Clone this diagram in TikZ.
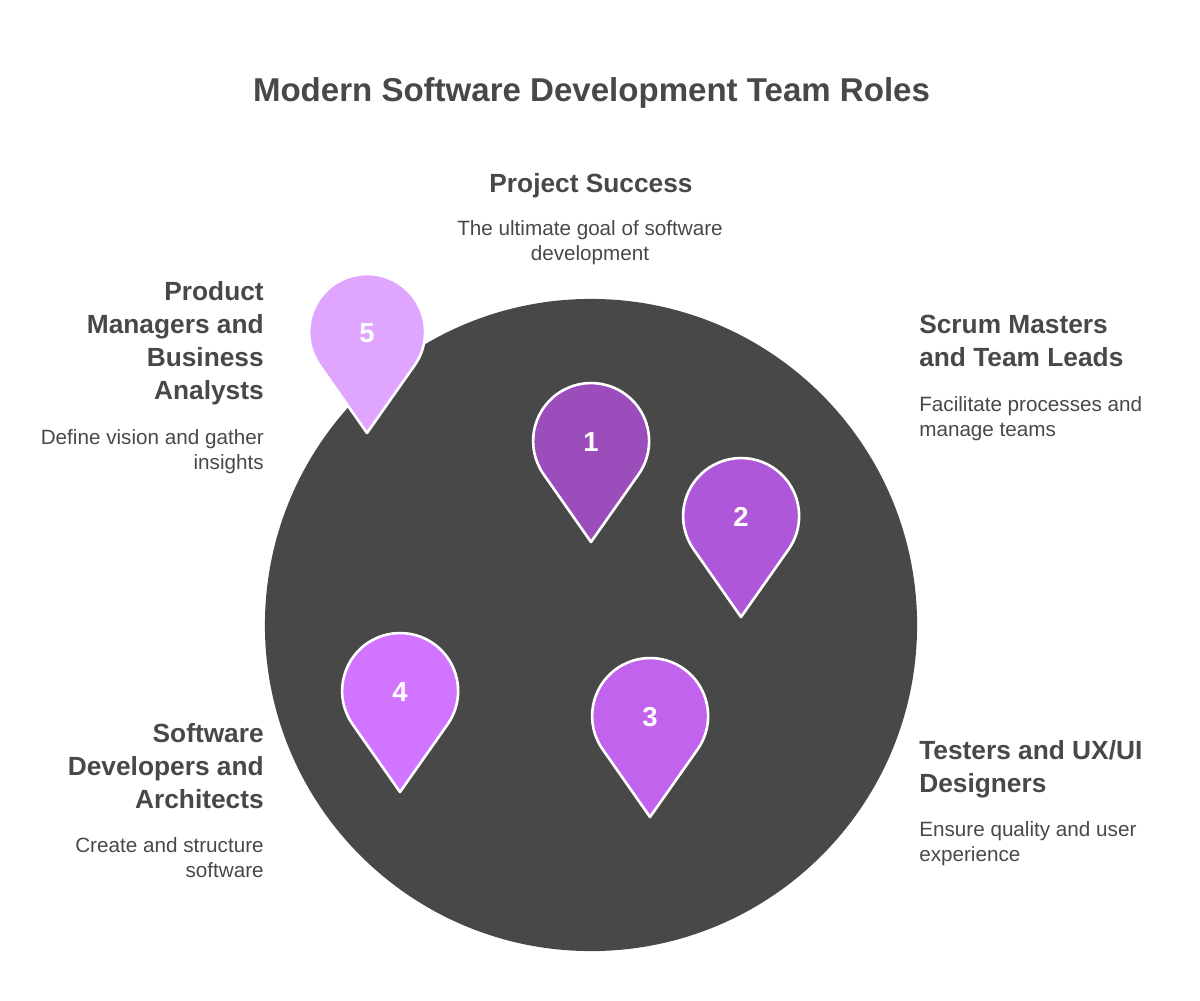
\documentclass[tikz,border=0pt]{standalone}
\usepackage{fontspec}
\setmainfont{Liberation Sans}
\usetikzlibrary{positioning,calc}

\definecolor{disc}{HTML}{484848}
\definecolor{inktext}{HTML}{484848}
\definecolor{pinone}{HTML}{9B4DBC}
\definecolor{pintwo}{HTML}{AF57D9}
\definecolor{pinthree}{HTML}{C263EE}
\definecolor{pinfour}{HTML}{D174FF}
\definecolor{pinfive}{HTML}{E0A6FF}

\tikzset{
    px/.style={x=0.025cm, y=-0.025cm},
    headtext/.style={text=inktext, inner sep=0pt, font=\bfseries\fontsize{18.7}{23.5}\selectfont},
    bodytext/.style={text=inktext, inner sep=0pt, font=\fontsize{14.7}{17.8}\selectfont},
    numtext/.style={text=white, font=\bfseries\fontsize{19.5}{20}\selectfont},
    pinshape/.style={draw=white, line width=0.065cm, line join=round}
}

% one pin: name, tip x, tip y, fill, number
\newcommand{\drawpin}[5]{
    \coordinate (#1_tip) at (#2,#3);
    \coordinate (#1_head) at (#2,#3-100);
    \fill[#4, pinshape]
        (#1_tip) -- ($(#1_tip)+(-47.4,-67.7)$)
        arc[start angle=145, end angle=395, radius=58]
        -- cycle;
    \node[numtext] (#1_num) at (#1_head) {#5};
}

\begin{document}
\begin{tikzpicture}[px]

    \useasboundingbox (0,0) rectangle (1200,1000);

    % Disc
    \node[circle, fill=disc, minimum size=16.3cm, inner sep=0pt] (main_disc) at (591,625) {};

    % Title
    \node[text=inktext, inner sep=0pt, font=\bfseries\fontsize{23.5}{26}\selectfont] (title) at (591.5,93) {Modern Software Development Team Roles};

    % Pins
    \drawpin{pin_one}{591}{542}{pinone}{1}
    \drawpin{pin_two}{741}{617}{pintwo}{2}
    \drawpin{pin_three}{650}{817}{pinthree}{3}
    \drawpin{pin_four}{400}{792}{pinfour}{4}
    \drawpin{pin_five}{367}{433}{pinfive}{5}

    % Labels
    \node[headtext] (success_head) at (591,186) {Project Success};
    \node[bodytext, align=center] (success_body) at (590,243) {The ultimate goal of software\\development};

    \node[headtext, align=left, anchor=north west] (scrum_head) at (919,315) {Scrum Masters\\and Team Leads};
    \node[bodytext, align=left, anchor=north west] (scrum_body) at (919,396) {Facilitate processes and\\manage teams};

    \node[headtext, align=left, anchor=north west] (test_head) at (919,740) {Testers and UX/UI\\Designers};
    \node[bodytext, align=left, anchor=north west] (test_body) at (919,821) {Ensure quality and user\\experience};

    \node[headtext, align=right, anchor=north east] (dev_head) at (264,723) {Software\\Developers and\\Architects};
    \node[bodytext, align=right, anchor=north east] (dev_body) at (264,837) {Create and structure\\software};

    \node[headtext, align=right, anchor=north east] (prod_head) at (264,281) {Product\\Managers and\\Business\\Analysts};
    \node[bodytext, align=right, anchor=north east] (prod_body) at (264,429) {Define vision and gather\\insights};

\end{tikzpicture}
\end{document}
